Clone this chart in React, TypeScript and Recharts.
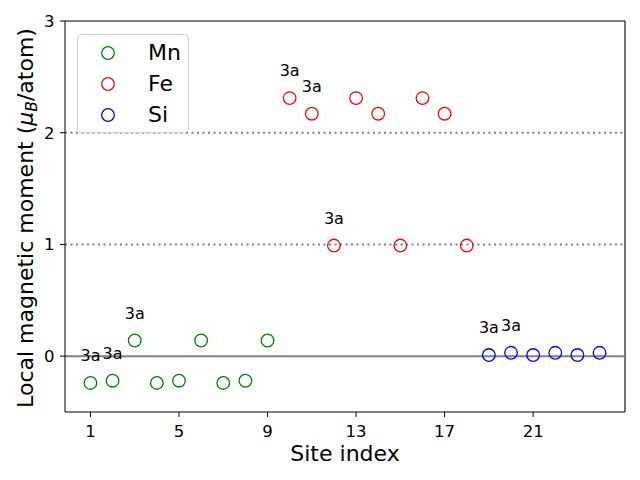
import { Legend, ReferenceLine, Scatter, ScatterChart, XAxis, YAxis } from "recharts";

const mnSites = [1, 2, 3, 4, 5, 6, 7, 8, 9];
const mnMoments = [-0.24, -0.22, 0.14, -0.24, -0.22, 0.14, -0.24, -0.22, 0.14];
const feSites = [10, 11, 12, 13, 14, 15, 16, 17, 18];
const feMoments = [2.31, 2.17, 0.99, 2.31, 2.17, 0.99, 2.31, 2.17, 0.99];
const siSites = [19, 20, 21, 22, 23, 24];
const siMoments = [0.01, 0.03, 0.01, 0.03, 0.01, 0.03];
const labelledSites = [1, 2, 3, 10, 11, 12, 19, 20];
const xTicks = [1, 5, 9, 13, 17, 21];
const yTicks = [0, 1, 2, 3];

const FONT = "DejaVu Sans";

function toPoints(sites: number[], moments: number[]) {
  return sites.map((site, i) => ({
    site,
    moment: moments[i],
    label: labelledSites.includes(site) ? "3a" : "",
  }));
}

const series = [
  { name: "Mn", color: "#008000", data: toPoints(mnSites, mnMoments) },
  { name: "Fe", color: "#ff0000", data: toPoints(feSites, feMoments) },
  { name: "Si", color: "#0000ff", data: toPoints(siSites, siMoments) },
];

function hollowDot(color: string) {
  return (props: any) => {
    const { cx, cy, payload } = props;
    return (
      <g>
        <circle cx={cx} cy={cy} r={6.3} fill="none" stroke={color} strokeWidth={1.3} />
        {payload.label ? (
          <text x={cx} y={cy - 22} textAnchor="middle" fontFamily={FONT} fontSize={16} fill="#000">
            {payload.label}
          </text>
        ) : null}
      </g>
    );
  };
}

function YLabel() {
  return (
    <text
      x={33}
      y={218}
      transform="rotate(-90, 33, 218)"
      textAnchor="middle"
      fontFamily={FONT}
      fontSize={22}
      fill="#000"
    >
      Local magnetic moment (
      <tspan fontStyle="italic">μ</tspan>
      <tspan fontStyle="italic" fontSize={15.5} dy={4}>B</tspan>
      <tspan dy={-4}>/atom)</tspan>
    </text>
  );
}

function XLabel() {
  return (
    <text x={345} y={461} textAnchor="middle" fontFamily={FONT} fontSize={22} fill="#000">
      Site index
    </text>
  );
}

function LegendBox() {
  return (
    <div
      style={{
        width: 110,
        height: 97,
        border: "1px solid #d0d0d0",
        borderRadius: 4,
        background: "rgba(255,255,255,0.8)",
        position: "relative",
        fontFamily: FONT,
        fontSize: 22,
      }}
    >
      {series.map((s, i) => (
        <div key={s.name} style={{ position: "absolute", left: 0, top: 18 + i * 31 - 14, height: 28, width: 110 }}>
          <svg width={60} height={28} style={{ position: "absolute", left: 0, top: 0 }}>
            <circle cx={30} cy={14} r={6.3} fill="none" stroke={s.color} strokeWidth={1.3} />
          </svg>
          <span style={{ position: "absolute", left: 70, top: 0, lineHeight: "28px", color: "#000" }}>{s.name}</span>
        </div>
      ))}
    </div>
  );
}

export default function App() {
  return (
    <div style={{ position: "fixed", left: 0, top: 0, width: 640, height: 480, background: "#fff" }}>
      <ScatterChart width={640} height={480} margin={{ top: 21, right: 15, bottom: 0, left: 0 }}>
        <XAxis
          dataKey="site"
          type="number"
          domain={[-0.15, 25.15]}
          ticks={xTicks}
          allowDataOverflow
          height={68}
          tickSize={5}
          tickMargin={8}
          tick={{ fill: "#000", fontSize: 16.5, fontFamily: FONT }}
          stroke="#000"
          label={<XLabel />}
        />
        <YAxis
          dataKey="moment"
          type="number"
          domain={[-0.5, 3]}
          ticks={yTicks}
          allowDataOverflow
          width={65}
          tickSize={5}
          tickMargin={5.5}
          tick={{ fill: "#000", fontSize: 16.5, fontFamily: FONT }}
          stroke="#000"
          label={<YLabel />}
        />
        <ReferenceLine y={3} stroke="#000" strokeWidth={1.1} />
        <ReferenceLine x={25.15} stroke="#000" strokeWidth={1.1} />
        <ReferenceLine y={0} stroke="#808080" strokeWidth={2} />
        <ReferenceLine y={1} stroke="#808080" strokeWidth={2} strokeDasharray="2 3.5" />
        <ReferenceLine y={2} stroke="#808080" strokeWidth={2} strokeDasharray="2 3.5" />
        {series.map((s) => (
          <Scatter
            key={s.name}
            name={s.name}
            data={s.data}
            fill={s.color}
            shape={hollowDot(s.color)}
            isAnimationActive={false}
          />
        ))}
        <Legend
          layout="vertical"
          align="center"
          verticalAlign="middle"
          wrapperStyle={{ left: 77, top: 34, width: 112, height: 99 }}
          content={() => <LegendBox />}
        />
      </ScatterChart>
    </div>
  );
}
